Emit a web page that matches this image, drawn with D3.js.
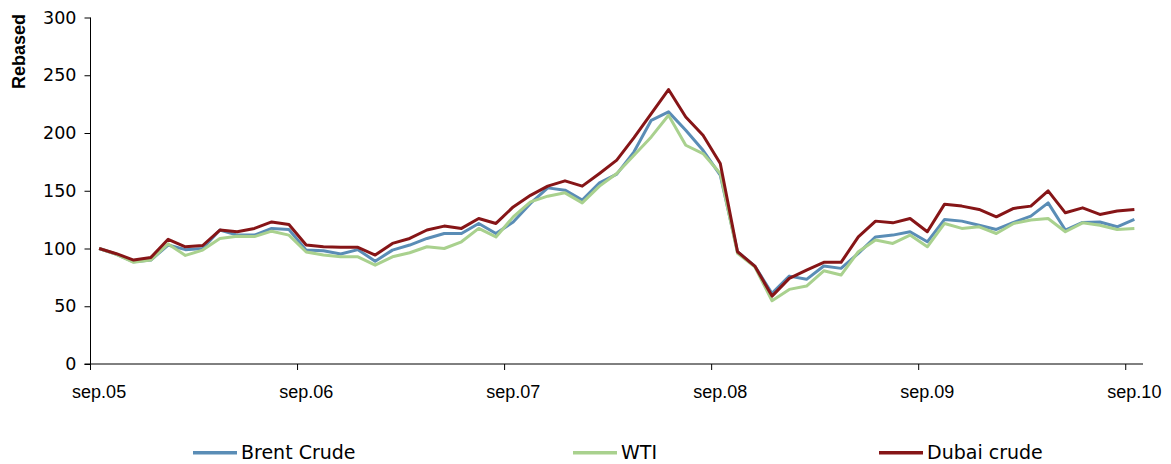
<!DOCTYPE html>
<html>
<head>
<meta charset="utf-8">
<script src="https://cdn.jsdelivr.net/npm/d3@7"></script>
<style>
  html, body { margin: 0; padding: 0; background: #fff; }
  svg { display: block; }
</style>
</head>
<body>
<svg id="chart" width="1171" height="464"></svg>
<script>
// Monthly oil prices, rebased to Sep 2005 = 100
const monthNames = ["sep","okt","nov","des","jan","feb","mar","apr","mai","jun","jul","aug"];
const months = d3.range(61).map(i => {
  const yr = 5 + Math.floor((i + 8) / 12);
  return monthNames[i % 12] + "." + String(yr).padStart(2, "0");
});
const tickLabels = ["sep.05", "sep.06", "sep.07", "sep.08", "sep.09", "sep.10"];
const yTicks = [0, 50, 100, 150, 200, 250, 300];

const brent = [100, 95, 88.5, 90, 103, 99, 100, 116, 111.6, 111.6, 117.4, 116.5,
  98.6, 98, 95.2, 99, 89, 98.6, 103, 108.7, 113, 113, 121.7, 113,
  123, 139, 152.5, 150.5, 141.9, 156.8, 164.4, 183.7, 211, 218.3, 202.4, 185,
  163.5, 97.2, 84.8, 61.1, 76.1, 73.3, 84.8, 82.8, 95.8, 110, 111.6, 114.5,
  105.8, 125.2, 123.7, 120.2, 116.5, 122.6, 128, 139.5, 116, 122.6, 123, 118.8, 125.2];
const wti = [100, 95, 88, 90, 104, 94, 98.6, 108.7, 110.7, 110.3, 115, 111.6,
  97, 94.3, 92.8, 92.8, 85.6, 92.8, 96.3, 101.5, 100, 105.8, 117.4, 110,
  127.4, 140.4, 145.3, 148.2, 139.5, 154, 165, 180.8, 196.6, 215.4, 189.4, 182.2,
  165, 95.8, 84.2, 54.8, 64.6, 67.5, 80.7, 77, 97.2, 107.3, 104.4, 111.6,
  101.5, 121.7, 117.4, 118.8, 113, 121.7, 124.6, 126, 114.5, 122.2, 120.2, 116.5, 117.4];
const dubai = [100, 95.5, 90, 92.3, 108, 101.5, 102.6, 116, 114.5, 117.4, 123, 120.8,
  103, 101.5, 101, 101, 94.3, 104.4, 108.7, 116, 119.4, 117.4, 126, 121.7,
  136, 146, 154, 158.6, 154, 165, 176.5, 196, 216.8, 237.6, 213.9, 198,
  173.6, 97.2, 84.8, 58.8, 74.1, 81.3, 88, 88, 110, 123.7, 122.2, 126,
  114.5, 138.4, 136.7, 133.8, 127.4, 134.7, 136.7, 149.9, 130.9, 135.2, 129.5, 132.4, 133.8];

const series = [
  { name: "Brent Crude", values: brent, color: "#5a8db6" },
  { name: "WTI", values: wti, color: "#a9d18e" },
  { name: "Dubai crude", values: dubai, color: "#861517" }
];

const svg = d3.select("#chart");
const plot = { left: 90.5, right: 1143, top: 17.5, bottom: 364 };

const x = d3.scaleBand().domain(months).range([plot.left, plot.right]).padding(0);
const y = d3.scaleLinear().domain([0, 300]).range([plot.bottom, plot.top]);

// Y axis
const yAxis = d3.axisLeft(y).tickValues(yTicks).tickSize(6).tickPadding(8);
const gy = svg.append("g").attr("transform", `translate(${plot.left},0)`).call(yAxis);
gy.select(".domain").attr("stroke", "#000").attr("d", `M0,${plot.bottom}V${plot.top}`);
gy.selectAll(".tick line").attr("stroke", "#000");
gy.selectAll(".tick text")
  .attr("font-family", "Verdana, 'DejaVu Sans', sans-serif")
  .attr("font-size", "17.5px").attr("fill", "#000");

// X axis: ticks at yearly category boundaries, labels centred on the category
const gx = svg.append("g").attr("transform", `translate(0,${plot.bottom})`);
gx.append("line").attr("x1", plot.left - 6).attr("x2", plot.right)
  .attr("y1", 0).attr("y2", 0).attr("stroke", "#000");
gx.selectAll("line.tick").data(tickLabels).join("line")
  .attr("class", "tick")
  .attr("x1", d => x(d)).attr("x2", d => x(d))
  .attr("y1", 0).attr("y2", 6).attr("stroke", "#000");
gx.selectAll("text").data(tickLabels).join("text")
  .attr("x", d => x(d) + x.bandwidth() / 2)
  .attr("y", 33.7)
  .attr("text-anchor", "middle")
  .attr("font-family", "Arial, 'Liberation Sans', sans-serif")
  .attr("font-size", "18px").attr("fill", "#000")
  .text(d => d);

// Y axis title
svg.append("text")
  .attr("transform", `translate(24.5,51.5) rotate(-90)`)
  .attr("text-anchor", "middle")
  .attr("font-family", "Arial, 'Liberation Sans', sans-serif")
  .attr("font-weight", "bold").attr("font-size", "18px")
  .text("Rebased");

// Lines
const line = d3.line()
  .x((d, i) => x(months[i]) + x.bandwidth() / 2)
  .y(d => y(d));
svg.append("g").selectAll("path").data(series).join("path")
  .attr("fill", "none")
  .attr("stroke", d => d.color)
  .attr("stroke-width", 3)
  .attr("stroke-linejoin", "round")
  .attr("d", d => line(d.values));

// Legend
const legendX = [193, 573, 879];
const lg = svg.append("g").selectAll("g").data(series).join("g")
  .attr("transform", (d, i) => `translate(${legendX[i]},452.7)`);
lg.append("line").attr("x1", 0).attr("x2", 44).attr("y1", 0).attr("y2", 0)
  .attr("stroke", d => d.color).attr("stroke-width", 3.5);
lg.append("text").attr("x", 48).attr("y", 6)
  .attr("font-family", "Verdana, 'DejaVu Sans', sans-serif")
  .attr("font-size", "19px").attr("fill", "#000")
  .text(d => d.name);
</script>
</body>
</html>
